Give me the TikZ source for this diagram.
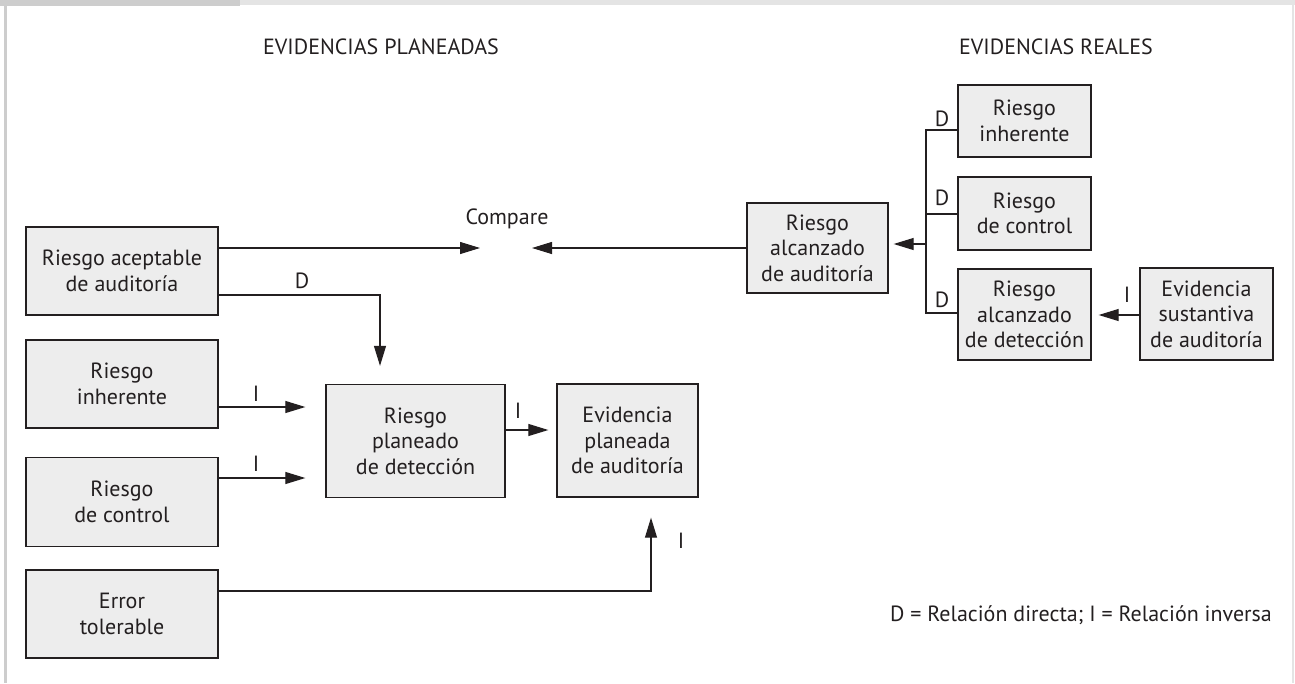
\documentclass[tikz,border=0pt]{standalone}
\usepackage{fontspec}
\setmainfont{PT Sans}
\usetikzlibrary{arrows.meta,calc}
\definecolor{boxfill}{HTML}{EDEDED}
\definecolor{frameA}{HTML}{CDCDCD}
\definecolor{frameB}{HTML}{E4E4E4}
\definecolor{ink}{HTML}{231F20}
\tikzset{
  rbox/.style={draw=ink, fill=boxfill, line width=1.3pt, align=center, inner sep=0pt,
    font=\fontsize{22}{25.5}\selectfont, text=ink},
  conn/.style={draw=ink, line width=1.1pt},
  arr/.style={conn, -{Triangle[length=20pt,width=12pt]}},
  lbl/.style={font=\fontsize{22}{24}\selectfont, text=ink, inner sep=0pt},
}
\begin{document}
\begin{tikzpicture}[x=1pt,y=-1pt]
\useasboundingbox (0,0) rectangle (1295,683);
% frame
\fill[frameB] (0,0) rectangle (1295,5);
\fill[frameA] (0,0) rectangle (240,6);
\fill[frameA] (3.5,0) rectangle (7,683);
\draw[frameB, line width=1.2pt] (1293,5) -- (1293,683);

% titles
\node[lbl] (tplan) at (381,47) {EVIDENCIAS PLANEADAS};
\node[lbl] (treal) at (1056,47) {EVIDENCIAS REALES};
\node[lbl] (cmp) at (507,219) {Compare};
\node[lbl, anchor=east] (legend) at (1272,615) {D = Relación directa; I = Relación inversa};

% left boxes
\node[rbox, minimum width=192pt, minimum height=88pt] (acep) at (122,271) {Riesgo aceptable\\de auditoría};
\node[rbox, minimum width=192pt, minimum height=88pt] (inhL) at (122,384) {Riesgo\\inherente};
\node[rbox, minimum width=192pt, minimum height=89pt] (ctrlL) at (122,502) {Riesgo\\de control};
\node[rbox, minimum width=192pt, minimum height=88pt] (err) at (122,614) {Error\\tolerable};

% middle boxes
\node[rbox, minimum width=179pt, minimum height=113pt] (plan) at (415.5,441) {Riesgo\\planeado\\de detección};
\node[rbox, minimum width=141pt, minimum height=113pt] (evid) at (627.5,440.5) {Evidencia\\planeada\\de auditoría};

% right boxes
\node[rbox, minimum width=141pt, minimum height=90pt] (alc) at (817.5,248) {Riesgo\\alcanzado\\de auditoría};
\node[rbox, minimum width=133pt, minimum height=72pt] (inhR) at (1024.5,121) {Riesgo\\inherente};
\node[rbox, minimum width=133pt, minimum height=73pt] (ctrlR) at (1024.5,213.5) {Riesgo\\de control};
\node[rbox, minimum width=133pt, minimum height=91pt] (detR) at (1024.5,314.5) {Riesgo\\alcanzado\\de detección};
\node[rbox, minimum width=133pt, minimum height=92pt] (sust) at (1206.5,314) {Evidencia\\sustantiva\\de auditoría};

% compare arrows
\coordinate (cmpL) at (480,248);
\coordinate (cmpR) at (532,248);
\draw[arr] (acep.east |- cmpL) -- (cmpL);
\draw[arr] (alc.west |- cmpR) -- (cmpR);

% aceptable -> planeado (D)
\coordinate (dturn) at (380,295);
\draw[arr, shorten >=18pt] (acep.east |- dturn) -| (plan.north -| dturn);
\node[lbl] (dA) at (302,281) {D};

% inherente/control -> planeado
\draw[arr, shorten >=20pt] (inhL.east |- 0,407) -- (plan.west |- 0,407);
\node[lbl] (iA) at (256,394) {I};
\draw[arr, shorten >=20pt] (ctrlL.east |- 0,478) -- (plan.west |- 0,478);
\node[lbl] (iB) at (256,464) {I};

% planeado -> evidencia
\draw[arr, shorten >=8pt] (plan.east |- 0,430) -- (evid.west |- 0,430);
\node[lbl] (iC) at (518,411) {I};

% error -> evidencia
\coordinate (eturn) at (651,591);
\draw[arr, shorten >=20pt] (err.east |- eturn) -| (evid.south -| eturn);
\node[lbl] (iD) at (681,541) {I};

% right tree
\coordinate (bus) at (926,244);
\draw[conn] (inhR.west |- 0,130) -| (bus |- 0,130) -- (bus |- 0,313) -- (detR.west |- 0,313);
\draw[conn] (ctrlR.west |- 0,214) -- (bus |- 0,214);
\draw[arr, shorten >=5pt] (bus) -- (alc.east |- bus);
\node[lbl] (dB) at (942,119) {D};
\node[lbl] (dC) at (942,198) {D};
\node[lbl] (dD) at (942,300) {D};

% sustantiva -> deteccion
\draw[arr, shorten >=7pt] (sust.west |- 0,315) -- (detR.east |- 0,315);
\node[lbl] (iE) at (1127,295) {I};
\end{tikzpicture}
\end{document}
